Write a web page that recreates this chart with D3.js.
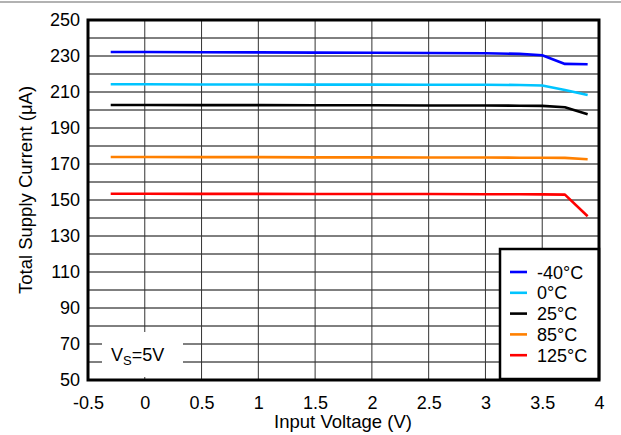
<!DOCTYPE html>
<html><head><meta charset="utf-8">
<script src="https://cdn.jsdelivr.net/npm/d3@7"></script>
<style>body{margin:0;background:#fff}svg{display:block}text{font-family:"Liberation Sans",Arial,Helvetica,sans-serif;fill:#000}</style>
</head><body>
<svg id="c" width="621" height="435"></svg>
<script>
const volts = [-0.3, 0, 0.5, 1, 1.5, 2, 2.5, 3, 3.3, 3.5, 3.7, 3.9];
const tm40 = [232.2, 232.2, 232.1, 232.0, 231.9, 231.8, 231.7, 231.5, 231.2, 230.4, 225.6, 225.4];
const t0 = [214.3, 214.3, 214.2, 214.2, 214.1, 214.1, 214.0, 214.0, 213.9, 213.6, 211.1, 208.3];
const t25 = [202.8, 202.8, 202.7, 202.7, 202.6, 202.6, 202.5, 202.5, 202.4, 202.3, 201.5, 197.6];
const t85 = [173.9, 173.9, 173.8, 173.8, 173.7, 173.7, 173.6, 173.6, 173.5, 173.5, 173.4, 172.6];
const t125 = [153.5, 153.5, 153.4, 153.4, 153.3, 153.3, 153.3, 153.2, 153.2, 153.1, 153.0, 141.0];
const seriesNames = ["-40°C", "0°C", "25°C", "85°C", "125°C"];
const seriesColors = ["#0000ff", "#00c4ff", "#000000", "#ff8000", "#ff0000"];
const xTicks = [-0.5, 0, 0.5, 1, 1.5, 2, 2.5, 3, 3.5, 4];
const yTicks = [50, 70, 90, 110, 130, 150, 170, 190, 210, 230, 250];
const yGrid = d3.range(50, 251, 10);

const series = [tm40, t0, t25, t85, t125];
const svg = d3.select("#c");
const L = 88, R = 599, T = 20, B = 380;
const x = d3.scaleLinear().domain([-0.5, 4]).range([L, R]);
const y = d3.scaleLinear().domain([50, 250]).range([B, T]);

// top rule
svg.append("line").attr("x1", 0).attr("x2", 621).attr("y1", 2).attr("y2", 2)
  .attr("stroke", "#999").attr("stroke-width", 1.5);

// grid
svg.append("g").selectAll("line").data(yGrid).join("line")
  .attr("x1", L).attr("x2", R).attr("y1", d => y(d)).attr("y2", d => y(d))
  .attr("stroke", "#000").attr("stroke-width", 1);
svg.append("g").selectAll("line").data(xTicks).join("line")
  .attr("y1", T).attr("y2", B).attr("x1", d => x(d)).attr("x2", d => x(d))
  .attr("stroke", "#333").attr("stroke-width", 1);

// axes (labels only)
const xAxis = d3.axisBottom(x).tickValues(xTicks).tickSize(0).tickPadding(16)
  .tickFormat(d => String(d));
const gx = svg.append("g").attr("transform", `translate(0,${B})`).call(xAxis);
gx.select(".domain").remove();
gx.selectAll("text").attr("font-size", 18).attr("font-family", '"Liberation Sans",Arial,sans-serif').attr("fill", "#000");

const yAxis = d3.axisLeft(y).tickValues(yTicks).tickSize(0).tickPadding(8)
  .tickFormat(d => String(d));
const gy = svg.append("g").attr("transform", `translate(${L},0)`).call(yAxis);
gy.select(".domain").remove();
gy.selectAll("text").attr("font-size", 18).attr("font-family", '"Liberation Sans",Arial,sans-serif').attr("fill", "#000");

// lines
const line = d3.line().x((d, i) => x(volts[i])).y(d => y(d));
series.forEach((s, k) => {
  svg.append("path").datum(s).attr("d", line).attr("fill", "none")
    .attr("stroke", seriesColors[k]).attr("stroke-width", 2.6)
    .attr("stroke-linejoin", "round");
});

// VS box
svg.append("rect").attr("x", 102).attr("y", 332).attr("width", 81).attr("height", 45).attr("fill", "#fff");
const vs = svg.append("text").attr("x", 111).attr("y", 361).attr("font-size", 18);
vs.append("tspan").text("V");
vs.append("tspan").attr("font-size", 13).attr("dy", 4).text("S");
vs.append("tspan").attr("dy", -4).text("=5V");

// legend
const lg = svg.append("g");
lg.append("rect").attr("x", 500).attr("y", 249).attr("width", 99).attr("height", 130)
  .attr("fill", "#fff").attr("stroke", "#000").attr("stroke-width", 2.5);
seriesNames.forEach((n, k) => {
  const cy = 272 + k * 20.8;
  lg.append("line").attr("x1", 510).attr("x2", 527).attr("y1", cy).attr("y2", cy)
    .attr("stroke", seriesColors[k]).attr("stroke-width", 2.6);
  lg.append("text").attr("x", 537).attr("y", cy + 6.5).attr("font-size", 18).text(n);
});

// frame
svg.append("rect").attr("x", L).attr("y", T).attr("width", R - L).attr("height", B - T)
  .attr("fill", "none").attr("stroke", "#000").attr("stroke-width", 3);

// axis titles
svg.append("text").attr("x", (L + R) / 2 - 0.5).attr("y", 428).attr("text-anchor", "middle")
  .attr("font-size", 18.5).text("Input Voltage (V)");
svg.append("text").attr("transform", "translate(32,190) rotate(-90)").attr("text-anchor", "middle")
  .attr("font-size", 18.5).text("Total Supply Current (μA)");
</script>
</body></html>
